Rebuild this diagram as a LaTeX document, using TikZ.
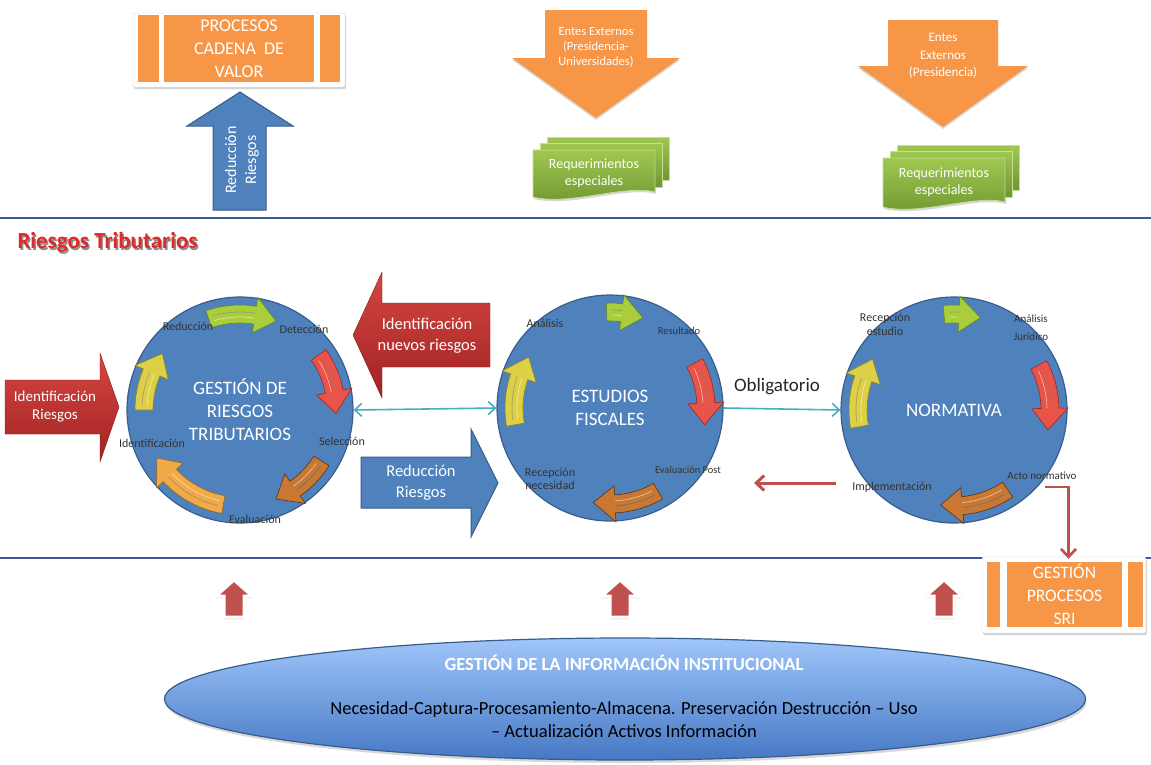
\documentclass[tikz,border=0pt]{standalone}
\usepackage{fontspec}
\setmainfont{Carlito}
\usetikzlibrary{shadows,calc,arrows.meta,shapes.geometric}
\definecolor{cblue}{RGB}{79,129,189}
\definecolor{cblueD}{RGB}{56,93,138}
\definecolor{corange}{RGB}{247,150,70}
\definecolor{cred}{RGB}{192,80,77}
\definecolor{credL}{RGB}{214,70,64}
\definecolor{credD}{RGB}{160,35,35}
\definecolor{ccyan}{RGB}{75,172,198}
\definecolor{cgreen}{RGB}{140,184,67}
\definecolor{cgreenL}{RGB}{160,200,80}
\definecolor{cgreenD}{RGB}{110,150,50}
\definecolor{cline}{RGB}{60,90,150}
\definecolor{aGreen}{RGB}{170,205,60}
\definecolor{aGreenD}{RGB}{100,130,30}
\definecolor{aRed}{RGB}{232,84,72}
\definecolor{aRedD}{RGB}{150,40,35}
\definecolor{aBrown}{RGB}{200,120,50}
\definecolor{aBrownD}{RGB}{90,50,20}
\definecolor{aOrange}{RGB}{240,170,70}
\definecolor{aOrangeD}{RGB}{150,100,30}
\definecolor{aYellow}{RGB}{222,208,70}
\definecolor{aYellowD}{RGB}{140,130,30}
\definecolor{elTop}{RGB}{160,198,250}
\definecolor{elBot}{RGB}{70,120,196}
\definecolor{ttlred}{RGB}{225,40,40}
\newcommand{\cycarrow}[6]{%
  \pgfmathsetmacro{\hh}{#4-13}%
  \filldraw[fill=#5,draw=#6,line width=0.6pt]
    plot[domain=#3:\hh,samples=16] ({#1+105*cos(\x)},{#2+105*sin(\x)})
    -- ({#1+114*cos(\hh)},{#2+114*sin(\hh)})
    -- ({#1+96*cos(#4)},{#2+96*sin(#4)})
    -- ({#1+78*cos(\hh)},{#2+78*sin(\hh)})
    -- plot[domain=\hh:#3,samples=16] ({#1+87*cos(\x)},{#2+87*sin(\x)})
    -- cycle;
  \draw[#6!70!white,line width=0.9pt]
    plot[domain=#3+3:\hh,samples=16] ({#1+98*cos(\x)},{#2+98*sin(\x)});
  \draw[white!60!#5,line width=0.6pt]
    plot[domain=#3+3:\hh,samples=16] ({#1+93*cos(\x)},{#2+93*sin(\x)});
}
\begin{document}
\begin{tikzpicture}[x=1pt,y=-1pt,
  wt/.style={text=white,align=center,font=\fontsize{19}{23}\selectfont},
  lbl/.style={text=black!80,align=center,font=\fontsize{12}{14}\selectfont},
  frame/.style={fill=white,draw=black!15,rounded corners=2pt,drop shadow={shadow xshift=1pt,shadow yshift=-2pt,opacity=0.35}},
  orbar/.style={fill=corange},
  circ/.style={circle,minimum size=226pt,fill=cblue,draw=cblueD,line width=1.2pt,wt},
  cyanarr/.style={draw=ccyan,line width=1.6pt,-{Straight Barb[length=7pt,width=13pt]}},
  redarr/.style={draw=cred,line width=3pt,-{Straight Barb[length=8pt,width=15pt]}},
  upred/.style={fill=cred,draw=white,line width=3pt,drop shadow={shadow xshift=0pt,shadow yshift=-2pt,opacity=0.4}},
  docpage/.style={top color=cgreenL,bottom color=cgreenD,draw=cgreenL!60!white,line width=0.6pt}
]
\useasboundingbox (0,0) rectangle (1151,764);
\fill[white] (0,0) rectangle (1151,764);

% separator lines
\coordinate (l1a) at (0,218); \coordinate (l1b) at (1151,218);
\coordinate (l2a) at (0,558); \coordinate (l2b) at (1151,558);
\draw[cline,line width=1.6pt] (l1a) -- (l1b);
\draw[cline,line width=1.6pt] (l2a) -- (l2b);

% PROCESOS CADENA DE VALOR
\path[frame] (133,13) rectangle (345,87);
\fill[orbar] (138,15) rectangle (159,82);
\fill[orbar] (320,15) rectangle (340,82);
\node[orbar,minimum width=150pt,minimum height=67pt,wt,inner sep=0pt,font=\fontsize{18}{23}\selectfont] (pcv) at (239,48.5)
  {PROCESOS\\CADENA\ \ DE\\VALOR};

% up blue arrow
\filldraw[fill=cblue,draw=cblueD,line width=1pt]
  (213,210) -- (213,126) -- (187,126) -- (240,92) -- (293,126) -- (266,126) -- (266,210) -- cycle;
\node[wt,rotate=90,font=\fontsize{16}{20}\selectfont] (rr1) at (242,160) {Reducción\\Riesgos};

% orange down arrows
\fill[corange,drop shadow={shadow xshift=0pt,shadow yshift=-2pt,opacity=0.3}]
  (545,10) -- (647,10) -- (647,58) -- (680,58) -- (596,118) -- (512,58) -- (545,58) -- cycle;
\node[wt,font=\fontsize{12.5}{15}\selectfont] (ee1) at (596,47) {Entes Externos\\(Presidencia-\\Universidades)};
\fill[corange,drop shadow={shadow xshift=0pt,shadow yshift=-2pt,opacity=0.3}]
  (888,20) -- (998,20) -- (998,66) -- (1028,66) -- (943,127) -- (858,66) -- (888,66) -- cycle;
\node[wt,font=\fontsize{13}{17.5}\selectfont] (ee2) at (943,56) {Entes\\Externos\\(Presidencia)};

% green documents 1
\path[docpage] (547,137) rectangle (669,180);
\path[docpage] (540,143) rectangle (662,187);
\path[docpage,drop shadow={shadow xshift=1pt,shadow yshift=-2pt,opacity=0.3}]
  (533,150) -- (655,150) -- (655,192) .. controls (625,184) and (570,206) .. (533,197) -- cycle;
\node[wt,font=\fontsize{14}{17}\selectfont] (req1) at (594,173) {Requerimientos\\especiales};
% green documents 2
\path[docpage] (897,145) rectangle (1019,190);
\path[docpage] (890,151) rectangle (1012,197);
\path[docpage,drop shadow={shadow xshift=1pt,shadow yshift=-2pt,opacity=0.3}]
  (883,158) -- (1005,158) -- (1005,202) .. controls (975,194) and (920,216) .. (883,207) -- cycle;
\node[wt,font=\fontsize{14}{17}\selectfont] (req2) at (944,182) {Requerimientos\\especiales};

% Riesgos Tributarios title
\node[anchor=west,text=black!45,font=\bfseries\fontsize{23}{26}\selectfont] at (15.5,244) {Riesgos Tributarios};
\node[anchor=west,text=ttlred,font=\bfseries\fontsize{23}{26}\selectfont] (title) at (14,242) {Riesgos Tributarios};

% left red arrow
\shade[top color=credL,bottom color=credD,draw=credD!80!black,line width=0.4pt]
  (5,380) -- (100,380) -- (100,353) -- (119,407) -- (100,462) -- (100,434) -- (5,434) -- cycle;
\node[wt,font=\fontsize{15}{18}\selectfont] (idr) at (55,407) {Identificación\\Riesgos};

% identificacion nuevos riesgos arrow
\shade[top color=credL,bottom color=credD,draw=credD!80!black,line width=0.4pt]
  (490,303) -- (382,303) -- (382,272) -- (353,335) -- (382,398) -- (382,367) -- (490,367) -- cycle;
\node[wt,font=\fontsize{16.5}{21}\selectfont] (inr) at (427,336) {Identificación\\nuevos riesgos};

% blue reduccion riesgos arrow
\filldraw[fill=cblue,draw=cblueD,line width=1pt]
  (361,457) -- (471,457) -- (471,429) -- (498,483) -- (471,537) -- (471,508) -- (361,508) -- cycle;
\node[wt,font=\fontsize{16.5}{21}\selectfont] (rr2) at (421,483) {Reducción\\Riesgos};

% circles
\node[circ] (c1) at (240,410) {GESTIÓN DE\\RIESGOS\\TRIBUTARIOS};
\node[circ] (c2) at (610,408) {ESTUDIOS\\FISCALES};
\node[circ] (c3) at (954,410) {NORMATIVA};

% cycle arrows circle 1
\cycarrow{240}{410}{251}{292}{aGreen}{aGreenD}
\cycarrow{240}{410}{325}{362}{aRed}{aRedD}
\cycarrow{240}{410}{32}{68}{aBrown}{aBrownD}
\cycarrow{240}{410}{100}{150}{aOrange}{aOrangeD}
\cycarrow{240}{410}{180}{216}{aYellow}{aYellowD}
% circle 2
\cycarrow{610}{408}{268}{290}{aGreen}{aGreenD}
\cycarrow{610}{408}{332}{370}{aRed}{aRedD}
\cycarrow{610}{408}{60}{100}{aBrown}{aBrownD}
\cycarrow{610}{408}{170}{212}{aYellow}{aYellowD}
% circle 3
\cycarrow{954}{410}{264}{286}{aGreen}{aGreenD}
\cycarrow{954}{410}{332}{372}{aRed}{aRedD}
\cycarrow{954}{410}{56}{98}{aBrown}{aBrownD}
\cycarrow{954}{410}{170}{212}{aYellow}{aYellowD}

% labels circle 1
\node[lbl] (l11) at (188,326) {Reducción};
\node[lbl] (l12) at (304,329) {Detección};
\node[lbl] (l13) at (342,441) {Selección};
\node[lbl] (l14) at (255,519) {Evaluación};
\node[lbl] (l15) at (152,443) {Identificación};
% labels circle 2
\node[lbl] (l21) at (545,323) {Análisis};
\node[lbl,font=\fontsize{10.5}{12}\selectfont] (l22) at (679,331) {Resultado};
\node[lbl,font=\fontsize{10.5}{12}\selectfont] (l23) at (688,470) {Evaluación Post};
\node[lbl,font=\fontsize{12}{13}\selectfont] (l24) at (550,479) {Recepción\\necesidad};
% labels circle 3
\node[lbl,font=\fontsize{12}{14}\selectfont] (l31) at (885,324) {Recepción\\estudio};
\node[lbl,font=\fontsize{11}{18}\selectfont] (l32) at (1031,328) {Análisis\\Jurídico};
\node[lbl,font=\fontsize{11}{12}\selectfont] (l33) at (1042,476) {Acto normativo};
\node[lbl] (l34) at (892,487) {Implementación};

% connectors
\draw[cyanarr,{Straight Barb[length=7pt,width=13pt]}-{Straight Barb[length=7pt,width=13pt]}] (c1.east) -- (c2.west);
\draw[cyanarr] (c2.east) -- (c3.west);
\node[font=\fontsize{19}{22}\selectfont,text=black!85] (obl) at (777,387) {Obligatorio};
\coordinate (rA) at (836,483);
\coordinate (rB) at (754,483);
\draw[redarr] (rA) -- (rB);

% GESTION PROCESOS SRI
\path[frame] (982,557) rectangle (1146,633);
\fill[orbar] (987,562) rectangle (1000,627);
\fill[orbar] (1128,562) rectangle (1143,627);
\node[orbar,minimum width=115pt,minimum height=65pt,wt,inner sep=0pt,font=\fontsize{17.5}{23}\selectfont] (sri) at (1064.5,594.5)
  {GESTIÓN\\PROCESOS\\SRI};
\coordinate (nA) at (1045,487);
\draw[redarr,line width=2.6pt] (nA) -| ($(sri.north)+(4,-3)$);

% small red up arrows
\path[upred] (224,617) -- (224,596) -- (216,596) -- (234,580) -- (252,596) -- (244,596) -- (244,617) -- cycle;
\path[upred] (610,617) -- (610,596) -- (602,596) -- (620,580) -- (638,596) -- (630,596) -- (630,617) -- cycle;
\path[upred] (934,617) -- (934,596) -- (926,596) -- (944,580) -- (962,596) -- (954,596) -- (954,617) -- cycle;

% ellipse
\node[ellipse,minimum width=921pt,minimum height=122pt,top color=elTop,bottom color=elBot,draw=cblueD,line width=1.2pt,
  drop shadow={shadow xshift=1pt,shadow yshift=-3pt,opacity=0.3}] (gi) at (625,699) {};
\node[text=white,font=\bfseries\fontsize{18.5}{21}\selectfont] (git) at (624,663) {GESTIÓN DE LA INFORMACIÓN INSTITUCIONAL};
\node[align=center,font=\fontsize{18.5}{23}\selectfont] (gid) at (624,720)
  {Necesidad-Captura-Procesamiento-Almacena. Preservación Destrucción – Uso\\– Actualización Activos Información};
\end{tikzpicture}
\end{document}
